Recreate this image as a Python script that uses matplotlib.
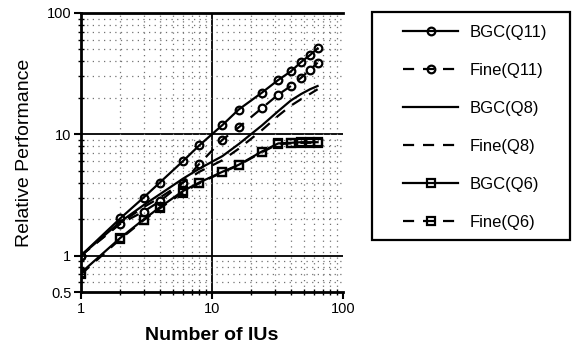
import matplotlib
matplotlib.use('Agg')
import matplotlib.pyplot as plt
import matplotlib.patches as mpatches
from matplotlib.ticker import FixedLocator, NullFormatter

plt.rcParams['font.family'] = ['Liberation Sans', 'DejaVu Sans']

# ---- data ----
ius = [1, 2, 3, 4, 6, 8, 12, 16, 24, 32, 40, 48, 56, 64]
bgc_q11 = [1.0, 2.03, 3.0, 4.0, 6.0, 8.1, 11.9, 16.0, 22.0, 28.0, 33.0, 39.5, 45.0, 51.0]
fine_q11 = [1.0, 1.83, 2.3, 2.8, 4.0, 5.7, 9.0, 11.4, 16.4, 21.2, 25.0, 29.3, 34.0, 39.0]
bgc_q8 = [1.0, 1.9, 2.6, 3.2, 4.3, 5.2, 6.6, 8.3, 11.8, 15.5, 19.0, 21.5, 23.5, 25.0]
fine_q8 = [1.0, 1.85, 2.5, 3.0, 4.0, 4.9, 6.1, 7.6, 10.8, 14.2, 17.2, 19.5, 21.5, 23.5]
bgc_q6 = [0.72, 1.4, 1.98, 2.5, 3.4, 4.0, 4.9, 5.6, 7.2, 8.4, 8.5, 8.6, 8.6, 8.6]
fine_q6 = [0.70, 1.37, 1.95, 2.45, 3.3, 3.95, 4.85, 5.55, 7.1, 8.3, 8.4, 8.5, 8.5, 8.5]

x_ticks = [1, 10, 100]
x_ticklabels = ['1', '10', '100']
y_ticks = [0.5, 1, 10, 100]
y_ticklabels = ['0.5', '1', '10', '100']

W, H = 572, 350
fig = plt.figure(figsize=(W / 100, H / 100), dpi=100)
ax = fig.add_axes([81 / W, 58 / H, 262 / W, 279 / H])
ax.set_xscale('log')
ax.set_yscale('log')
ax.set_xlim(1, 100)
ax.set_ylim(0.5, 100)

# ticks
ax.xaxis.set_major_locator(FixedLocator(x_ticks))
ax.set_xticklabels(x_ticklabels)
xmin = [m * d for d in (1, 10) for m in range(2, 10)]
ax.xaxis.set_minor_locator(FixedLocator(xmin))
ax.xaxis.set_minor_formatter(NullFormatter())
ax.yaxis.set_major_locator(FixedLocator(y_ticks))
ax.set_yticklabels(y_ticklabels)
ymin = [0.6, 0.7, 0.8, 0.9] + [m * d for d in (1, 10) for m in range(2, 10)]
ax.yaxis.set_minor_locator(FixedLocator(ymin))
ax.yaxis.set_minor_formatter(NullFormatter())

ax.tick_params(which='major', direction='out', length=5, width=1.5, labelsize=10.5, pad=2)
ax.tick_params(which='minor', direction='inout', length=5, width=1.0)

# grid
ax.grid(which='minor', linestyle=(0, (1, 3.5)), color='0.45', linewidth=0.9)
for xv in [10]:
    ax.axvline(xv, color='black', linewidth=1.3, zorder=1.5)
for yv in [1, 10]:
    ax.axhline(yv, color='black', linewidth=1.3, zorder=1.5)

for s in ['left', 'bottom', 'top']:
    ax.spines[s].set_linewidth(2.0)
ax.spines['right'].set_visible(False)

dash = (0, (5, 4))
common = dict(color='black', linewidth=1.6, markersize=5.5, markeredgewidth=1.6,
              markerfacecolor='none', zorder=3)
ax.plot(ius, bgc_q11, linestyle='-', marker='o', label='BGC(Q11)', **common)
ax.plot(ius, fine_q11, linestyle=dash, marker='o', label='Fine(Q11)', **common)
ax.plot(ius, bgc_q8, linestyle='-', label='BGC(Q8)', **common)
ax.plot(ius, fine_q8, linestyle=dash, label='Fine(Q8)', **common)
ax.plot(ius, bgc_q6, linestyle='-', marker='s', label='BGC(Q6)', **common)
ax.plot(ius, fine_q6, linestyle=dash, marker='s', label='Fine(Q6)', **common)

ax.set_xlabel('Number of IUs', fontsize=14, fontweight='bold', labelpad=8)
ax.set_ylabel('Relative Performance', fontsize=14, labelpad=10)

leg = ax.legend(loc='upper left', bbox_to_anchor=(395 / W, 1 - 17 / H),
                bbox_transform=fig.transFigure, frameon=False, fontsize=12,
                borderpad=0, handlelength=3.3, handletextpad=0.7,
                labelspacing=1.37)

fig.patches.append(mpatches.Rectangle((372 / W, 1 - 240 / H), 198 / W, 228 / H,
                                      transform=fig.transFigure, fill=False,
                                      edgecolor='black', linewidth=1.6))

fig.savefig('out.png', dpi=100)
